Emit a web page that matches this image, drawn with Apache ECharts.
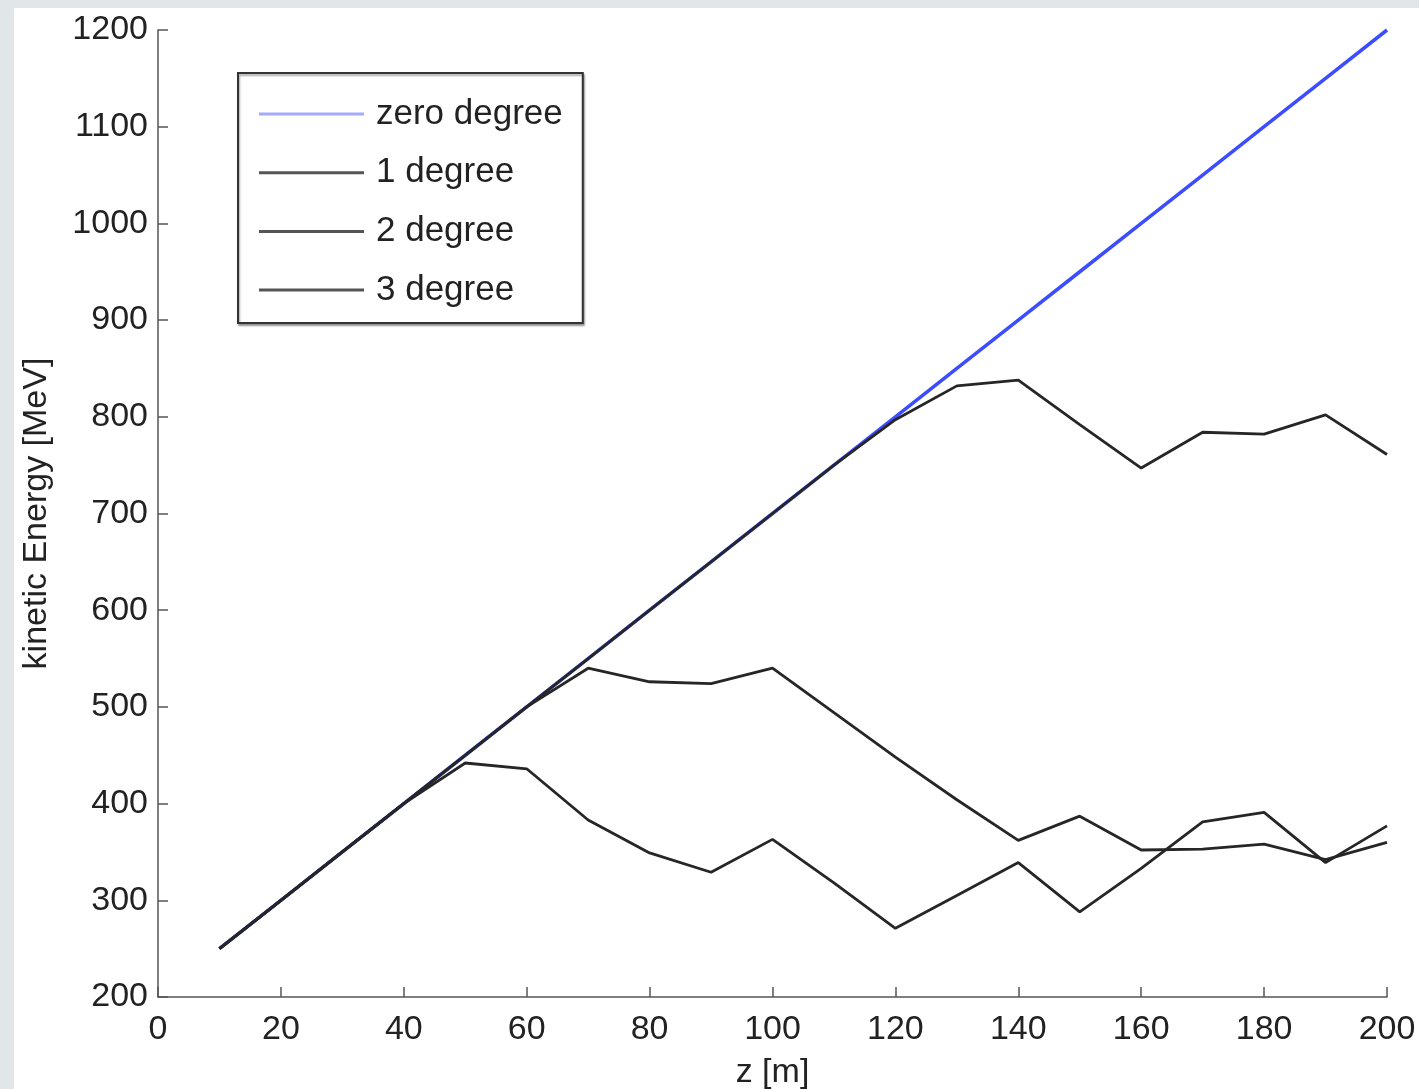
<!DOCTYPE html>
<html>
<head>
<meta charset="utf-8">
<script src="https://cdn.jsdelivr.net/npm/echarts@6/dist/echarts.min.js"></script>
<style>
  html, body { margin: 0; padding: 0; background: #e1e6e8; width: 1419px; height: 1089px; overflow: hidden; }
  #c { position: absolute; left: 14px; top: 8px; width: 1405px; height: 1081px; background: #ffffff; }
</style>
</head>
<body>
<div id="c"></div>
<script>
// z positions [m]
const zValues = [10, 20, 30, 40, 50, 60, 70, 80, 90, 100, 110, 120, 130, 140, 150, 160, 170, 180, 190, 200];
// kinetic energy [MeV]
const zeroDegree = [250, 300, 350, 400, 450, 500, 550, 600, 650, 700, 750, 800, 850, 900, 950, 1000, 1050, 1100, 1150, 1200];
const oneDegree  = [250, 300, 350, 400, 450, 500, 550, 600, 650, 700, 750, 797, 832, 838, 792, 747, 784, 782, 802, 761];
const twoDegree  = [250, 300, 350, 400, 450, 500, 540, 526, 524, 540, 494, 448, 404, 362, 387, 352, 353, 358, 342, 360];
const threeDegree = [250, 300, 350, 400, 442, 436, 383, 349, 329, 363, 318, 271, 305, 339, 288, 333, 381, 391, 339, 377];
const seriesNames = ['zero degree', '1 degree', '2 degree', '3 degree'];

const pairs = arr => zValues.map((z, i) => [z, arr[i]]);
const font = 'Liberation Sans, Arial, Helvetica, sans-serif';
const blue = '#3c4dff';
const dark = '#262626';

const chart = echarts.init(document.getElementById('c'));
chart.setOption({
  animation: false,
  grid: { left: 144, right: 32, top: 22, bottom: 92, containLabel: false, outerBoundsMode: 'none' },
  legend: {
    left: 224, top: 65,
    orient: 'vertical',
    data: [
      { name: seriesNames[0], icon: 'rect', itemStyle: { color: '#a3aaff' } },
      { name: seriesNames[1], icon: 'rect', itemStyle: { color: '#555' } },
      { name: seriesNames[2], icon: 'rect', itemStyle: { color: '#555' } },
      { name: seriesNames[3], icon: 'rect', itemStyle: { color: '#555' } }
    ],
    itemWidth: 105, itemHeight: 3, itemGap: 18.7,
    padding: [21, 20, 13, 21],
    borderColor: '#333', borderWidth: 2,
    backgroundColor: '#fff',
    shadowColor: 'rgba(0,0,0,0.35)', shadowBlur: 2, shadowOffsetX: 1, shadowOffsetY: 2,
    textStyle: { fontFamily: font, fontSize: 35, color: '#222', lineHeight: 40, padding: [0, 0, 0, 7] }
  },
  xAxis: {
    type: 'value', min: 0, max: 200, interval: 20,
    name: 'z [m]', nameLocation: 'middle', nameGap: 59,
    nameTextStyle: { fontFamily: font, fontSize: 34, color: '#222' },
    axisLine: { lineStyle: { color: '#555', width: 1.5 } },
    axisTick: { inside: true, length: 10, lineStyle: { color: '#555', width: 1.5 } },
    axisLabel: { fontFamily: font, fontSize: 34, color: '#222', margin: 16 },
    splitLine: { show: false }
  },
  yAxis: {
    type: 'value', min: 200, max: 1200, interval: 100,
    name: 'kinetic Energy [MeV]', nameLocation: 'middle', nameGap: 104,
    nameTextStyle: { fontFamily: font, fontSize: 34, color: '#222' },
    axisLine: { show: true, lineStyle: { color: '#555', width: 1.5 } },
    axisTick: { show: true, inside: true, length: 10, lineStyle: { color: '#555', width: 1.5 } },
    axisLabel: { fontFamily: font, fontSize: 34, color: '#222', margin: 10, formatter: v => String(v) },
    splitLine: { show: false }
  },
  series: [
    { name: seriesNames[0], type: 'line', data: pairs(zeroDegree), symbol: 'none', z: 1,
      lineStyle: { color: blue, width: 3.5 }, itemStyle: { color: blue } },
    { name: seriesNames[1], type: 'line', data: pairs(oneDegree), symbol: 'none', z: 3,
      lineStyle: { color: dark, width: 2.8 }, itemStyle: { color: dark } },
    { name: seriesNames[2], type: 'line', data: pairs(twoDegree), symbol: 'none', z: 3,
      lineStyle: { color: dark, width: 2.8 }, itemStyle: { color: dark } },
    { name: seriesNames[3], type: 'line', data: pairs(threeDegree), symbol: 'none', z: 3,
      lineStyle: { color: dark, width: 2.8 }, itemStyle: { color: dark } }
  ]
});
</script>
</body>
</html>
